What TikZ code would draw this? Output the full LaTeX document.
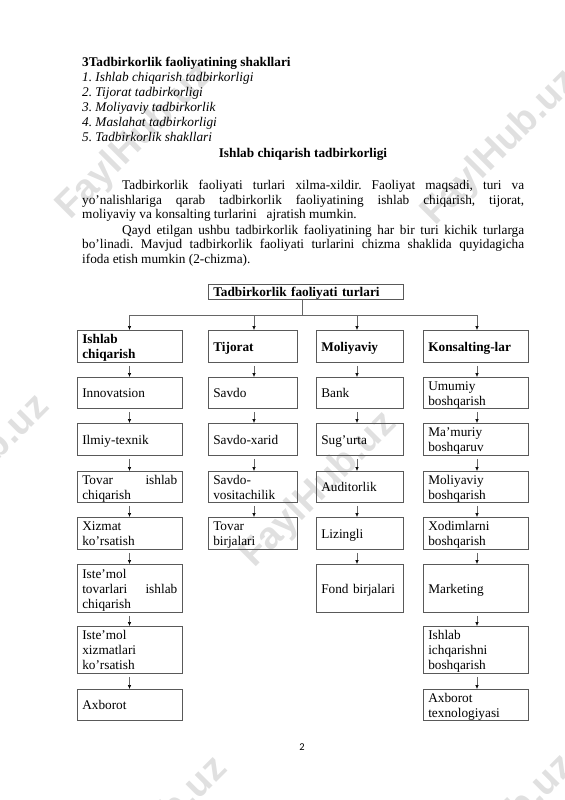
\documentclass[tikz,border=0pt]{standalone}
\usepackage{fontspec}
\setmainfont{Liberation Serif}
\newfontfamily\wmfont{Liberation Sans}
\newfontfamily\pnfont{Carlito}
\usetikzlibrary{arrows.meta}
\frenchspacing
\newcommand\pxu{1.05359pt}
\newcommand\sta{\vrule height 13.2pt depth 0pt width 0pt}
\newcommand\stb{\vrule height 0pt depth 2.6pt width 0pt}
\tikzset{
  box/.style={draw=black!65, line width=0.6pt, anchor=north west, inner xsep=5*\pxu, inner ysep=0pt,
    align=left, font=\fontsize{14}{15.8}\selectfont},
  hbox/.style={box, font=\fontsize{14}{15.8}\selectfont\bfseries},
  conn/.style={draw=black!60, line width=0.6pt},
  arr/.style={conn, -{Latex[length=4.2pt,width=3.6pt,black]}},
  txt/.style={anchor=base west, inner sep=0pt, font=\fontsize{14}{15.8}\selectfont},
  wm/.style={inner sep=0pt, rotate=45, text=black!12, font=\wmfont\bfseries\fontsize{40}{40}\selectfont},
}
\newcommand\bx[7]{\node[#1, text width=#4*\pxu-10*\pxu, minimum width=#4*\pxu, minimum height=#5*\pxu] (#2) at (#3) {\sta #7\stb};}
\begin{document}
\begin{tikzpicture}[x=1.05359pt,y=-1.05359pt]
\useasboundingbox (0,0) rectangle (565,800);
% watermarks
\node[wm] (w1) at (135,142) {FaylHub.uz};
\node[wm] (w2) at (500,148) {FaylHub.uz};
\node[wm] (w3) at (-28,473) {FaylHub.uz};
\node[wm] (w4) at (319,490) {FaylHub.uz};
\node[wm] (w5) at (150,835) {FaylHub.uz};
\node[wm] (w6) at (497,833) {FaylHub.uz};
% heading text
\node[txt, font=\fontsize{14}{15.8}\selectfont\bfseries] (h0) at (82,66.5) {3Tadbirkorlik faoliyatining shakllari};
\node[txt, font=\fontsize{14}{15.8}\selectfont\itshape] (h1) at (82,81.5) {1. Ishlab chiqarish tadbirkorligi};
\node[txt, font=\fontsize{14}{15.8}\selectfont\itshape] (h2) at (82,96.5) {2. Tijorat tadbirkorligi};
\node[txt, font=\fontsize{14}{15.8}\selectfont\itshape] (h3) at (82,111.5) {3. Moliyaviy tadbirkorlik};
\node[txt, font=\fontsize{14}{15.8}\selectfont\itshape] (h4) at (82,126.5) {4. Maslahat tadbirkorligi};
\node[txt, font=\fontsize{14}{15.8}\selectfont\itshape] (h5) at (82,141.5) {5. Tadbirkorlik shakllari};
\node[txt, anchor=base, font=\fontsize{14}{15.8}\selectfont\bfseries] (h6) at (303,157.5) {Ishlab chiqarish tadbirkorligi};
% paragraphs
\node[txt] (p1) at (122,189) {\makebox[423.54pt][s]{Tadbirkorlik faoliyati turlari xilma-xildir. Faoliyat maqsadi, turi va}};
\node[txt] (p2) at (82,204) {\makebox[465.69pt][s]{yo’nalishlariga qarab tadbirkorlik faoliyatining ishlab chiqarish, tijorat,}};
\node[txt] (p3) at (82,218.7) {moliyaviy va konsalting turlarini\ \ \ ajratish mumkin.};
\node[txt] (p4) at (122,234) {\makebox[423.54pt][s]{Qayd etilgan ushbu tadbirkorlik faoliyatining har bir turi kichik turlarga}};
\node[txt] (p5) at (82,248.7) {\makebox[465.69pt][s]{bo’linadi. Mavjud tadbirkorlik faoliyati turlarini chizma shaklida quyidagicha}};
\node[txt] (p6) at (82,263.3) {ifoda etish mumkin (2-chizma).};
% top box
\bx{hbox}{top}{208,284}{195}{15}{}{Tadbirkorlik faoliyati turlari}
% column 1
\bx{hbox}{a1}{77,330}{105}{32}{}{Ishlab\\chiqarish}
\bx{box}{a2}{77,377}{105}{31}{}{Innovatsion}
\bx{box}{a3}{77,423}{105}{32}{}{Ilmiy-texnik}
\bx{box}{a4}{77,471}{105}{31}{}{Tovar\hfill ishlab\\chiqarish}
\bx{box}{a5}{77,517}{105}{32}{}{Xizmat\\ko’rsatish}
\bx{box}{a6}{77,564}{105}{48}{}{Iste’mol\\tovarlari\hfill ishlab\\chiqarish}
\bx{box}{a7}{77,626}{105}{47}{}{Iste’mol\\xizmatlari\\ko’rsatish}
\bx{box}{a8}{77,689}{105}{31}{}{Axborot}
% column 2
\bx{hbox}{b1}{208,330}{89}{32}{}{Tijorat}
\bx{box}{b2}{208,377}{89}{31}{}{Savdo}
\bx{box}{b3}{208,423}{89}{32}{}{Savdo-xarid}
\bx{box}{b4}{208,471}{89}{31}{}{Savdo-\\vositachilik}
\bx{box}{b5}{208,517}{89}{32}{}{Tovar\\birjalari}
% column 3
\bx{hbox}{c1}{316,330}{87}{32}{}{Moliyaviy}
\bx{box}{c2}{316,377}{87}{31}{}{Bank}
\bx{box}{c3}{316,423}{87}{32}{}{Sug’urta}
\bx{box}{c4}{316,471}{87}{31}{}{Auditorlik}
\bx{box}{c5}{316,517}{87}{32}{}{Lizingli}
\bx{box}{c6}{316,564}{87}{48}{}{Fond birjalari}
% column 4
\bx{hbox}{d1}{423,330}{105}{32}{}{Konsalting-lar}
\bx{box}{d2}{423,377}{105}{31}{}{Umumiy\\boshqarish}
\bx{box}{d3}{423,423}{105}{32}{}{Ma’muriy\\boshqaruv}
\bx{box}{d4}{423,471}{105}{31}{}{Moliyaviy\\boshqarish}
\bx{box}{d5}{423,517}{105}{32}{}{Xodimlarni\\boshqarish}
\bx{box}{d6}{423,564}{105}{48}{}{Marketing}
\bx{box}{d7}{423,626}{105}{47}{}{Ishlab\\ichqarishni\\boshqarish}
\bx{box}{d8}{423,689}{105}{31}{}{Axborot\\texnologiyasi}
% connector x positions and bus
\coordinate (xt) at (302,0);
\coordinate (xa) at (129.5,0);
\coordinate (xb) at (254,0);
\coordinate (xc) at (357,0);
\coordinate (xd) at (477,0);
\coordinate (bus) at (0,315);
\draw[conn] (xt |- top.south) -- (xt |- bus);
\draw[conn] (xa |- bus) -- (xd |- bus);
\foreach \c/\n in {xa/a1,xb/b1,xc/c1,xd/d1}{
  \draw[arr] (\c |- bus) -- (\c |- \n.north);
}
\foreach \c/\u/\l in {xa/a1/a2,xa/a2/a3,xa/a3/a4,xa/a4/a5,xa/a5/a6,xa/a6/a7,xa/a7/a8,
  xb/b1/b2,xb/b2/b3,xb/b3/b4,xb/b4/b5,
  xc/c1/c2,xc/c2/c3,xc/c3/c4,xc/c4/c5,xc/c5/c6,
  xd/d1/d2,xd/d2/d3,xd/d3/d4,xd/d4/d5,xd/d5/d6,xd/d6/d7,xd/d7/d8}{
  \draw[arr, shorten <=3.5pt] (\c |- \u.south) -- (\c |- \l.north);
}
% page number
\node[inner sep=0pt, font=\pnfont\fontsize{11}{13}\selectfont] (pn) at (302,746.7) {2};
\end{tikzpicture}
\end{document}
